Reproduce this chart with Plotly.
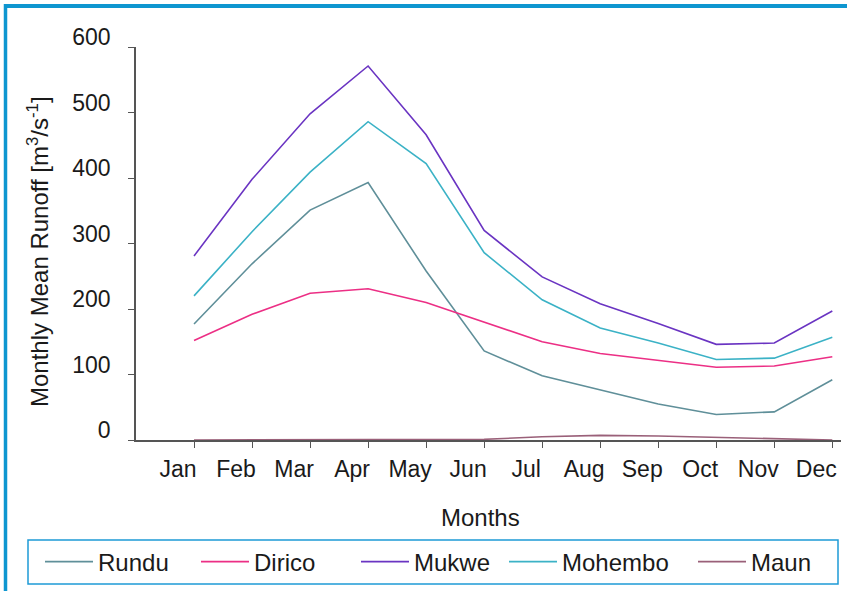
import plotly.graph_objects as go

months = ["Jan", "Feb", "Mar", "Apr", "May", "Jun", "Jul", "Aug", "Sep", "Oct", "Nov", "Dec"]
month_index = list(range(1, 13))

rundu = [177, 269, 351, 393, 258, 136, 98, 76, 55, 39, 43, 92]
dirico = [152, 192, 224, 231, 210, 180, 150, 132, 122, 111, 113, 127]
mukwe = [281, 398, 498, 571, 466, 320, 249, 208, 178, 146, 148, 197]
mohembo = [220, 318, 409, 486, 422, 286, 214, 171, 148, 123, 125, 157]
maun = [0, 0, 0, 0, 0, 1, 5, 7, 6, 4, 2, 0]

y_ticks = [0, 100, 200, 300, 400, 500, 600]

x_title = "Months"
y_title = "Monthly Mean Runoff [m<sup>3</sup>/s<sup>-1</sup>]"

series = [
    ("Rundu", rundu, "#5f8f99"),
    ("Dirico", dirico, "#ec2f85"),
    ("Mukwe", mukwe, "#6a34c2"),
    ("Mohembo", mohembo, "#3bb2c6"),
    ("Maun", maun, "#9a6079"),
]

W, H = 847, 591
L, R, T, B = 136, 6, 47, 151
pw, ph = W - L - R, H - T - B


def px(x):
    return (x - L) / pw


def py(y):
    return (H - B - y) / ph


font = "Liberation Sans, Arial, sans-serif"
blue = "#0e96d0"
fs = 23
fs_big = 24

# left edge (px) of each legend entry in the bottom key
legend_left = [40, 196, 356, 504, 693]

fig = go.Figure()
legend_layouts = {}
for i, (name, vals, color) in enumerate(series):
    lg = "legend" if i == 0 else f"legend{i + 1}"
    fig.add_trace(go.Scatter(
        x=month_index, y=vals, name=name, mode="lines",
        line=dict(color=color, width=1.6), cliponaxis=False, legend=lg,
    ))
    legend_layouts[lg] = dict(
        orientation="h", x=px(legend_left[i]), xanchor="left", y=py(562), yanchor="middle",
        font=dict(size=fs_big, family=font, color="#1a1a1a"), itemwidth=48,
        bgcolor="rgba(0,0,0,0)", borderwidth=0,
    )

fig.update_layout(
    width=W, height=H,
    margin=dict(l=L, r=R, t=T, b=B, autoexpand=False),
    paper_bgcolor="white", plot_bgcolor="white",
    font=dict(family=font, size=fs, color="#1a1a1a"),
    showlegend=True,
    xaxis=dict(
        range=[0.0, 12.15], tickmode="array", tickvals=month_index, ticktext=months,
        showline=True, linecolor="#555", linewidth=1.5, ticks="outside", ticklen=6,
        tickcolor="#555", tickwidth=1.2, showgrid=False, zeroline=False,
        ticklabelshift=-16, ticklabelstandoff=2, layer="below traces",
        automargin=False,
    ),
    yaxis=dict(
        range=[0, 600], tickmode="array", tickvals=y_ticks,
        showline=True, linecolor="#555", linewidth=1.5, ticks="outside", ticklen=6,
        tickcolor="#555", tickwidth=1.2, showgrid=False, zeroline=False,
        ticklabelshift=-10, ticklabelstandoff=13, layer="below traces",
        automargin=False,
    ),
    annotations=[
        dict(text=x_title, xref="paper", yref="paper", x=px(480), y=py(517),
             xanchor="center", yanchor="middle", showarrow=False,
             font=dict(size=fs_big, family=font, color="#1a1a1a")),
        dict(text=y_title, xref="paper", yref="paper", x=px(38), y=py(252),
             xanchor="center", yanchor="middle", showarrow=False, textangle=-90,
             font=dict(size=fs_big, family=font, color="#1a1a1a")),
    ],
    shapes=[
        dict(type="line", xref="paper", yref="paper", x0=px(5.5), x1=px(900),
             y0=py(6), y1=py(6), line=dict(color=blue, width=4), layer="above"),
        dict(type="line", xref="paper", yref="paper", x0=px(5.5), x1=px(5.5),
             y0=py(4), y1=py(640), line=dict(color=blue, width=3.5), layer="above"),
        dict(type="rect", xref="paper", yref="paper", x0=px(28), x1=px(838),
             y0=py(584), y1=py(540), line=dict(color="#1e9ad6", width=1.5), layer="above"),
    ],
    **legend_layouts,
)

fig.write_html(
    "out.html",
    config={"displayModeBar": False},
    post_script="document.body.style.margin='0';document.body.style.padding='0';",
)
